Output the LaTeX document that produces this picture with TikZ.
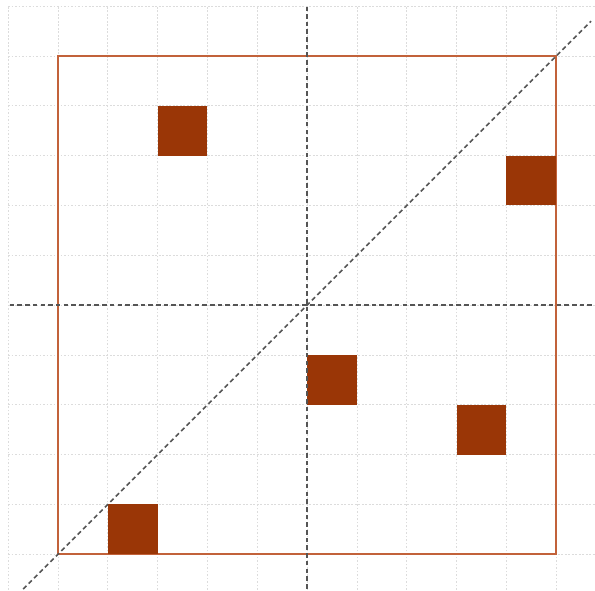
\documentclass[tikz,border=0pt]{standalone}
\usepackage{tikz}
\usetikzlibrary{arrows.meta}
\definecolor{sbrick}{HTML}{9A3606}
\definecolor{sframe}{HTML}{C2623A}
\definecolor{sgridc}{HTML}{DCDCDC}
\definecolor{saxis}{HTML}{555555}
\tikzset{
  gridline/.style={draw=sgridc, line width=0.45pt, dash pattern=on 1pt off 1pt},
  frame/.style={draw=sframe, line width=1.1pt},
  cell/.style={fill=sbrick, draw=none},
  axisline/.style={draw=saxis, line width=0.9pt, dash pattern=on 2.6pt off 1.8pt}
}
\begin{document}
\begin{tikzpicture}
  \clip (-1.165,-0.72) rectangle (10.78,11.125);
  \fill[white] (-1.165,-0.72) rectangle (10.78,11.125);
  % grid
  \draw[gridline] (-1,-1) grid (11,11);
  % outer square
  \draw[frame] (0,0) rectangle (10,10);
  % filled cells
  \foreach \cx/\cy in {2/8, 9/7, 5/3, 8/2, 1/0}
    \fill[cell] (\cx,\cy) rectangle ++(1,1);
  % axes and diagonal
  \draw[axisline] (-0.97,5) -- (11,5);
  \draw[axisline] (5,-1) -- (5,10.98);
  \draw[axisline] (-0.7,-0.7) -- (10.7,10.7);
\end{tikzpicture}
\end{document}
